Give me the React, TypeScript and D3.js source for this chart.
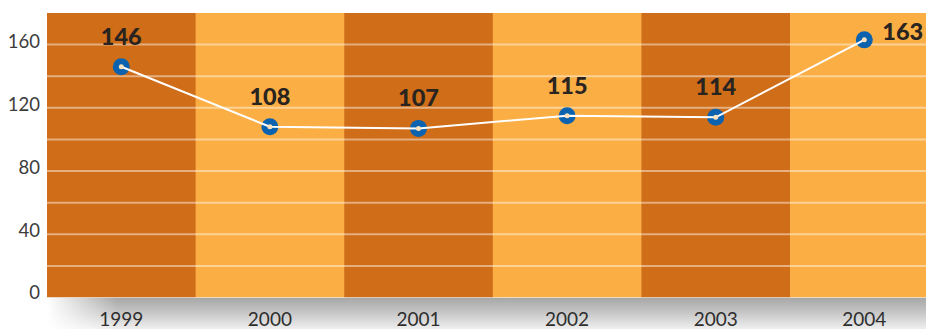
import React from "react";
import * as d3 from "d3";

const years = ["1999", "2000", "2001", "2002", "2003", "2004"];
const values = [146, 108, 107, 115, 114, 163];
const yTickLabels = [0, 40, 80, 120, 160];
const gridValues = [20, 40, 60, 80, 100, 120, 140, 160];
const bandColors = ["#cf6d18", "#fbae43"];

const W = 926;
const H = 329;
const left = 47;
const top = 13;
const bottom = 297.5;
const bandW = 148.6;

export default function App() {
  const x = d3
    .scaleBand<string>()
    .domain(years)
    .range([left, left + bandW * years.length])
    .padding(0);
  const y = d3.scaleLinear().domain([0, 180]).range([bottom, top]);
  const cx = (yr: string) => (x(yr) as number) + x.bandwidth() / 2;
  const pts = years.map((yr, i) => [cx(yr), y(values[i])] as [number, number]);
  const line = d3.line().curve(d3.curveLinear)(pts) || "";
  const font = "Lato, 'Open Sans', sans-serif";

  return (
    <div style={{ position: "fixed", left: 0, top: 0 }}>
      <svg width={W} height={H} style={{ display: "block", background: "#fff" }}>
        <defs>
          <linearGradient id="shadowV" x1="0" y1="0" x2="0" y2="1">
            <stop offset="0" stopColor="#a6a6a6" />
            <stop offset="0.5" stopColor="#c8c8c8" />
            <stop offset="1" stopColor="#efefef" />
          </linearGradient>
          <linearGradient id="fadeH" x1="0" y1="0" x2="1" y2="0">
            <stop offset="0" stopColor="#fff" stopOpacity="0" />
            <stop offset="0.08" stopColor="#fff" stopOpacity="1" />
            <stop offset="1" stopColor="#fff" stopOpacity="1" />
          </linearGradient>
          <mask id="shadowMask">
            <rect x={left} y={bottom} width={W - left} height={H - bottom} fill="url(#fadeH)" />
          </mask>
          <clipPath id="plotClip">
            <rect x={left} y={top} width={W - left} height={bottom - top} />
          </clipPath>
        </defs>

        <rect
          x={left}
          y={bottom}
          width={W - left}
          height={H - bottom}
          fill="url(#shadowV)"
          mask="url(#shadowMask)"
        />

        <g clipPath="url(#plotClip)">
          {years.map((yr, i) => (
            <rect
              key={yr}
              x={x(yr)}
              y={top}
              width={x.bandwidth() + 0.5}
              height={bottom - top}
              fill={bandColors[i % 2]}
            />
          ))}
          {gridValues.map((v) => (
            <line
              key={v}
              x1={left}
              x2={W}
              y1={y(v)}
              y2={y(v)}
              stroke="#fff"
              strokeOpacity={0.45}
              strokeWidth={2}
            />
          ))}
          {pts.map(([px, py], i) => (
            <circle key={i} cx={px} cy={py} r={8.5} fill="#0b62ae" />
          ))}
          <path d={line} fill="none" stroke="#fff" strokeWidth={2} />
          {pts.map(([px, py], i) => (
            <circle key={"c" + i} cx={px} cy={py} r={2.5} fill="#fbe2bd" />
          ))}
        </g>

        {yTickLabels.map((v) => (
          <text
            key={v}
            x={40}
            y={y(v) + (v === 0 ? 1 : 3)}
            textAnchor="end"
            fontFamily={font}
            fontSize={18.5}
            fill="#3c3c3c"
          >
            {v}
          </text>
        ))}

        {years.map((yr) => (
          <text
            key={yr}
            x={cx(yr)}
            y={325.5}
            textAnchor="middle"
            fontFamily={font}
            fontSize={19}
            fill="#2e2e2e"
          >
            {yr}
          </text>
        ))}

        {pts.map(([px, py], i) => {
          const last = i === pts.length - 1;
          return (
            <text
              key={"v" + i}
              x={last ? px + 18 : px}
              y={last ? py : py - 22}
              textAnchor={last ? "start" : "middle"}
              fontFamily={font}
              fontWeight={900}
              fontSize={23.5}
              fill="#2a2420"
            >
              {values[i]}
            </text>
          );
        })}
      </svg>
    </div>
  );
}
